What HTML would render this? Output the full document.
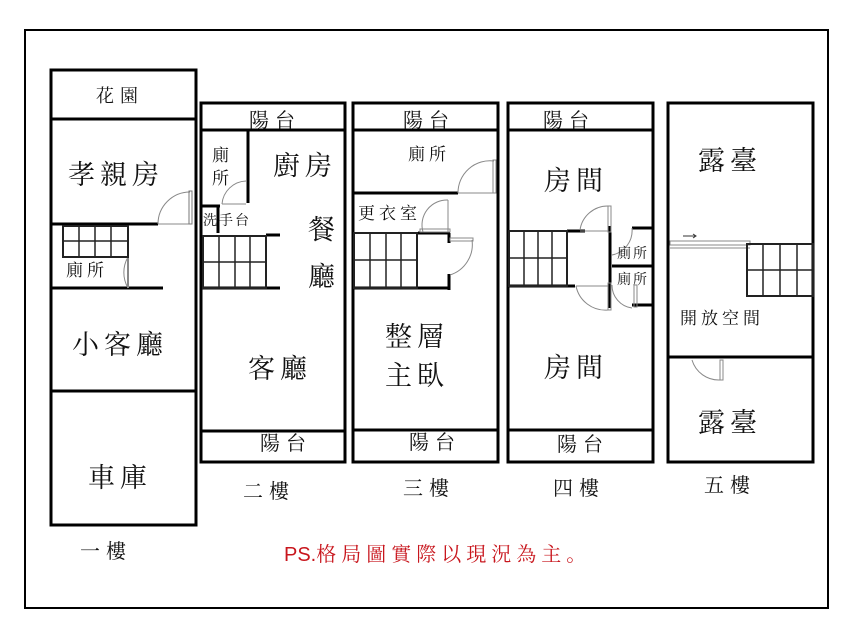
<!DOCTYPE html>
<html><head><meta charset="utf-8"><style>
html,body{margin:0;padding:0;background:#fff}
svg text{font-family:"Liberation Serif","Noto Serif CJK SC","Noto Sans CJK TC",serif;fill:#111}
</style></head><body>
<svg width="852" height="619" viewBox="0 0 852 619" xmlns="http://www.w3.org/2000/svg">
<rect x="25" y="30" width="803" height="578" fill="none" stroke="#000" stroke-width="2"/>
<g fill="none" stroke="#000" stroke-width="3">
<rect x="51" y="70" width="145" height="455"/>
<line x1="51" y1="119" x2="196" y2="119"/>
<line x1="51" y1="391" x2="196" y2="391"/>
<line x1="51" y1="224" x2="158" y2="224"/>
<line x1="51" y1="288" x2="163" y2="288"/>
<rect x="201" y="103" width="144" height="359"/>
<line x1="201" y1="130" x2="345" y2="130"/>
<line x1="201" y1="431" x2="345" y2="431"/>
<line x1="248" y1="130" x2="248" y2="203"/>
<line x1="201" y1="206" x2="220" y2="206"/>
<line x1="218" y1="206" x2="218" y2="233"/>
<line x1="266" y1="235" x2="280" y2="235"/>
<line x1="201" y1="288" x2="280" y2="288"/>
<rect x="353" y="103" width="145" height="359"/>
<line x1="353" y1="130" x2="498" y2="130"/>
<line x1="353" y1="430" x2="498" y2="430"/>
<line x1="353" y1="193" x2="458" y2="193"/>
<line x1="353" y1="288" x2="450" y2="288"/>
<line x1="418" y1="233" x2="450" y2="233"/>
<line x1="449" y1="233" x2="449" y2="243"/>
<line x1="449" y1="274" x2="449" y2="290"/>
<rect x="508" y="103" width="145" height="359"/>
<line x1="508" y1="130" x2="653" y2="130"/>
<line x1="508" y1="430" x2="653" y2="430"/>
<line x1="567" y1="231" x2="585" y2="231"/>
<line x1="508" y1="286" x2="575" y2="286"/>
<line x1="610" y1="226" x2="610" y2="308"/>
<line x1="632" y1="228" x2="653" y2="228"/>
<line x1="612" y1="266" x2="653" y2="266"/>
<line x1="632" y1="305" x2="653" y2="305"/>
<rect x="668" y="103" width="145" height="359"/>
<line x1="668" y1="357" x2="813" y2="357"/>
</g>
<g fill="none" stroke="#888" stroke-width="1">
<path d="M158 224 A32 32 0 0 1 190 192"/><line x1="158" y1="224" x2="190" y2="224"/><rect x="189" y="191" width="3" height="33" stroke="#777"/>
<path d="M128 257 A31 31 0 0 0 128 288"/> <line x1="128" y1="257" x2="128" y2="288" stroke-width="2"/>
<path d="M222 204 A25 25 0 0 1 246 181"/><line x1="222" y1="204" x2="246" y2="204"/>
<path d="M458 193 A32 32 0 0 1 494 161"/><line x1="458" y1="193" x2="494" y2="193"/><rect x="493" y="160" width="3" height="33"/>
<path d="M423 232 A25 25 0 0 1 448 200"/><line x1="448" y1="200" x2="448" y2="232"/><rect x="420" y="229" width="30" height="3"/>
<path d="M450 275 A32 32 0 0 0 472 240"/><rect x="450" y="238" width="23" height="3"/>
<path d="M580 230 A28 28 0 0 1 608 206"/><line x1="580" y1="231" x2="608" y2="231"/><rect x="608" y="206" width="3" height="26"/>
<path d="M576 286 A30 30 0 0 0 608 310"/><line x1="576" y1="286" x2="608" y2="286"/><rect x="608" y="283" width="3" height="27"/>
<path d="M612 255 A25 25 0 0 0 632 228"/>
<path d="M612 285 A23 23 0 0 0 632 308"/><rect x="634" y="285" width="3" height="22"/>
<path d="M692 360 A28 28 0 0 0 720 380"/><rect x="720" y="360" width="3" height="20"/>
<rect x="670" y="241" width="80" height="4"/><line x1="670" y1="248" x2="750" y2="248"/>
</g>
<line x1="683" y1="236" x2="695" y2="236" stroke="#333" stroke-width="1"/><path d="M693 234 L696 236 L693 238" fill="none" stroke="#333" stroke-width="1"/>
<g stroke="#222" fill="none">
<g stroke-width="2"><rect x="63" y="226" width="65" height="31"/>
<rect x="203" y="236" width="63" height="52"/>
<rect x="354" y="233" width="63" height="55"/>
<rect x="509" y="231" width="58" height="55"/>
<rect x="747" y="244" width="66" height="52"/></g>
<g stroke-width="1.5">
<line x1="79" y1="226" x2="79" y2="257"/><line x1="95" y1="226" x2="95" y2="257"/><line x1="111" y1="226" x2="111" y2="257"/><line x1="63" y1="241" x2="128" y2="241"/>
<line x1="219" y1="236" x2="219" y2="288"/><line x1="235" y1="236" x2="235" y2="288"/><line x1="250" y1="236" x2="250" y2="288"/><line x1="203" y1="262" x2="266" y2="262"/>
<line x1="370" y1="233" x2="370" y2="288"/><line x1="386" y1="233" x2="386" y2="288"/><line x1="401" y1="233" x2="401" y2="288"/><line x1="354" y1="260" x2="417" y2="260"/>
<line x1="524" y1="231" x2="524" y2="286"/><line x1="538" y1="231" x2="538" y2="286"/><line x1="552" y1="231" x2="552" y2="286"/><line x1="509" y1="258" x2="567" y2="258"/>
<line x1="763" y1="244" x2="763" y2="296"/><line x1="780" y1="244" x2="780" y2="296"/><line x1="797" y1="244" x2="797" y2="296"/><line x1="747" y1="270" x2="813" y2="270"/>
</g></g>
<g font-size="18" letter-spacing="6"><text x="96" y="102">花園</text></g>
<g font-size="27" letter-spacing="5">
<text x="68" y="184">孝親房</text>
<text x="273" y="175">廚房</text>
<text x="72" y="354">小客廳</text>
<text x="248" y="378">客廳</text>
<text x="88" y="487">車庫</text>
<text x="385" y="346">整層</text>
<text x="385" y="385">主臥</text>
<text x="544" y="190">房間</text>
<text x="544" y="377">房間</text>
<text x="698" y="170">露臺</text>
<text x="698" y="432">露臺</text>
<text x="308" y="239">餐</text>
<text x="308" y="286">廳</text>
</g>
<g font-size="20" letter-spacing="6">
<text x="249" y="127">陽台</text><text x="403" y="127">陽台</text><text x="543" y="127">陽台</text>
<text x="260" y="450">陽台</text><text x="409" y="449">陽台</text><text x="557" y="451">陽台</text>
<text x="243" y="498">二樓</text><text x="403" y="495">三樓</text><text x="553" y="495">四樓</text><text x="704" y="492">五樓</text>
<text x="80" y="558">一樓</text>
</g>
<g font-size="17" letter-spacing="4">
<text x="212" y="161">廁</text><text x="212" y="184">所</text>
<text x="66" y="276">廁所</text>
<text x="408" y="160">廁所</text>
<text x="358" y="219">更衣室</text>
<text x="680" y="324">開放空間</text>
</g>
<g font-size="14" letter-spacing="2"><text x="203" y="225">洗手台</text><text x="617" y="258">廁所</text><text x="617" y="284">廁所</text></g>
<text x="284" y="561" font-size="20" letter-spacing="5" style="fill:#c8161d"><tspan style="font-family:'Liberation Sans',sans-serif" letter-spacing="0">PS.</tspan>格局圖實際以現況為主。</text>
</svg>
</body></html>
